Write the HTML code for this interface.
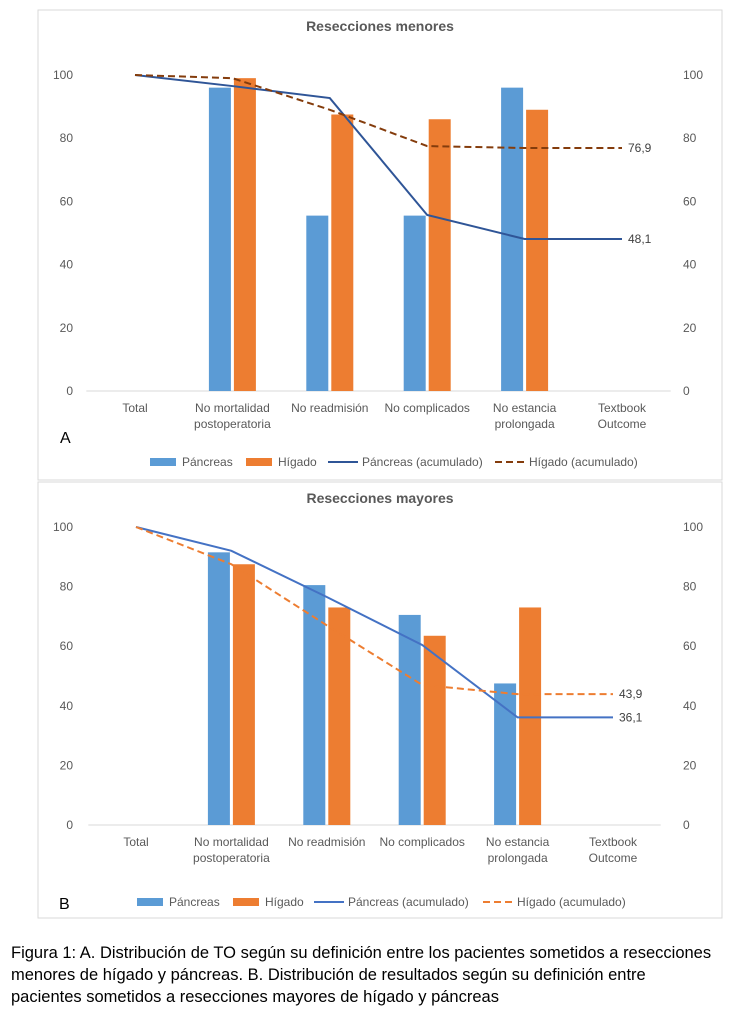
<!DOCTYPE html>
<html><head><meta charset="utf-8"><style>
body{margin:0;background:#fff;width:750px;height:1020px;overflow:hidden;font-family:"Liberation Sans",Calibri,sans-serif}
#cap{position:absolute;left:11px;top:942px;width:704px;font-size:16.5px;line-height:22px;color:#000}
</style></head><body>
<svg id="svg" width="750" height="940" style="position:absolute;left:0;top:0"></svg>
<div id="cap">Figura 1: A. Distribución de TO según su definición entre los pacientes sometidos a resecciones menores de hígado y páncreas. B. Distribución de resultados según su definición entre pacientes sometidos a resecciones mayores de hígado y páncreas</div>
<script>
const categories=["Total","No mortalidad|postoperatoria","No readmisión","No complicados","No estancia|prolongada","Textbook|Outcome"];
const ticks=[0,20,40,60,80,100];
const aPanc=[null,96,55.5,55.5,96,null];
const aHig=[null,99,87.5,86,89,null];
const aPancAc=[100,96.5,92.7,55.7,48.1,48.1];
const aHigAc=[100,99,89,77.5,76.9,76.9];
const bPanc=[null,91.5,80.5,70.5,47.5,null];
const bHig=[null,87.5,73,63.5,73,null];
const bPancAc=[100,92,76.5,60.4,36.1,36.1];
const bHigAc=[100,87.5,67,47,43.9,43.9];
const NS="http://www.w3.org/2000/svg";
const svg=document.getElementById('svg');
function mk(t,a,p){const e=document.createElementNS(NS,t);for(const k in a)e.setAttribute(k,a[k]);(p||svg).appendChild(e);return e;}
function txt(x,y,s,a,p){const e=mk('text',Object.assign({x:x,y:y,'font-size':12,fill:'#595959','text-anchor':'middle'},a||{}),p);e.textContent=s;return e;}
function chart(o){
 const g=mk('g',{});
 const r=mk('rect',{x:38,y:o.top,width:684,height:o.h,fill:'#fff',stroke:'#d9d9d9'},g);
 
 const t=txt(380,o.top+21,o.title,{'font-weight':'bold','font-size':14},g);
 
 const y=v=>o.y0-(o.y0-o.y100)*v/100;
 const x=i=>o.x0+o.dx*i;
 ticks.forEach(v=>{
  const l=txt(73,y(v)+4,String(v),{'text-anchor':'end'},g);
  const r2=txt(683,y(v)+4,String(v),{'text-anchor':'start'},g);
 });
 const ax=mk('line',{x1:o.x0-o.dx/2,x2:o.x0+o.dx*5.5,y1:y(0),y2:y(0),stroke:'#d9d9d9'},g);
 
 categories.forEach((c,i)=>{c.split('|').forEach((s,j)=>{const e=txt(x(i),y(0)+21+j*16,s,{},g);});});
 const bw=22;
 o.p.forEach((v,i)=>{if(v==null)return;const b=mk('rect',{x:x(i)-bw-1.5,y:y(v),width:bw,height:y(0)-y(v),fill:'#5b9bd5'},g);});
 o.hg.forEach((v,i)=>{if(v==null)return;const b=mk('rect',{x:x(i)+1.5,y:y(v),width:bw,height:y(0)-y(v),fill:'#ed7d31'},g);});
 const pl=mk('polyline',{points:o.pa.map((v,i)=>x(i)+','+y(v)).join(' '),fill:'none',stroke:o.pc,'stroke-width':2},g);
 
 const hl=mk('polyline',{points:o.ha.map((v,i)=>x(i)+','+y(v)).join(' '),fill:'none',stroke:o.hc,'stroke-width':2,'stroke-dasharray':'7,4'},g);
 
 const l1=txt(x(5)+6,y(o.pa[5])+4,String(o.pa[5]).replace('.',','),{'text-anchor':'start',fill:'#404040'},g);
 const l2=txt(x(5)+6,y(o.ha[5])+4,String(o.ha[5]).replace('.',','),{'text-anchor':'start',fill:'#404040'},g);
 const L=txt(o.lx,o.ly,o.letter,{'text-anchor':'start','font-size':16,fill:'#000'},g);
 const ly=o.legY;
 const items=[['Páncreas','bar',0],['Hígado','bar2',0],['Páncreas (acumulado)','line',0],['Hígado (acumulado)','dash',0]];
 o.legX.forEach((lx,k)=>{
  const it=items[k];const lg=mk('g',{},g);
  if(it[1]=='bar')mk('rect',{x:lx,y:ly-4,width:26,height:8,fill:'#5b9bd5'},lg);
  else if(it[1]=='bar2')mk('rect',{x:lx,y:ly-4,width:26,height:8,fill:'#ed7d31'},lg);
  else if(it[1]=='line')mk('line',{x1:lx-2,x2:lx+28,y1:ly,y2:ly,stroke:o.pc,'stroke-width':2},lg);
  else mk('line',{x1:lx-2,x2:lx+28,y1:ly,y2:ly,stroke:o.hc,'stroke-width':2,'stroke-dasharray':'7,4'},lg);
  txt(lx+32,ly+4,it[0],{'text-anchor':'start'},lg);
 });
}
chart({name:'chart-a',top:10,h:470,title:'Resecciones menores',y0:391,y100:75,x0:135,dx:97.4,p:aPanc,hg:aHig,pa:aPancAc,ha:aHigAc,pc:'#2f5597',hc:'#843c0c',letter:'A',lx:60,ly:443,legY:462,legX:[150,246,330,497]});
chart({name:'chart-b',top:482,h:436,title:'Resecciones mayores',y0:825,y100:527,x0:136,dx:95.4,p:bPanc,hg:bHig,pa:bPancAc,ha:bHigAc,pc:'#4472c4',hc:'#ed7d31',letter:'B',lx:59,ly:909,legY:902,legX:[137,233,316,485]});
</script>
</body></html>
